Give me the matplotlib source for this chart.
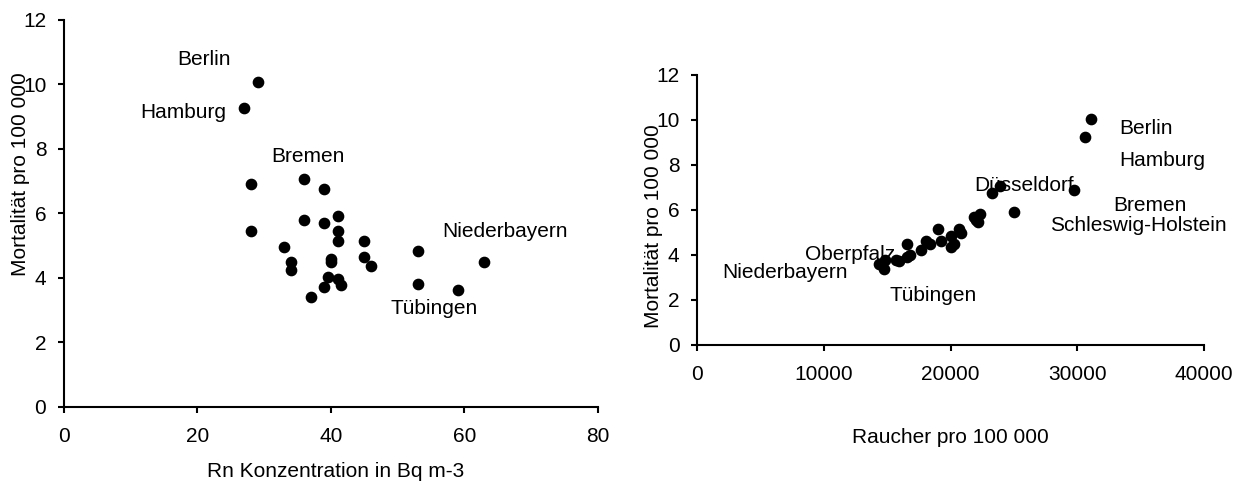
import matplotlib
matplotlib.use("Agg")
import matplotlib.pyplot as plt

plt.rcParams['font.family'] = ['Liberation Sans', 'DejaVu Sans']

# Radon concentration vs. lung cancer mortality per region
radon = [29, 27, 28, 28, 36, 39, 36, 39, 41, 41, 41, 33, 34, 34,
         40, 40, 45, 45, 46, 39.5, 41, 41.5, 39, 37, 53, 53, 59, 63]
mort_radon = [10.08, 9.27, 6.90, 5.47, 7.08, 6.77, 5.81, 5.70, 5.92, 5.45, 5.15, 4.97, 4.48, 4.26,
              4.59, 4.48, 5.16, 4.64, 4.36, 4.04, 3.98, 3.77, 3.72, 3.40, 4.85, 3.82, 3.62, 4.50]

radon_names = ["Berlin", "Hamburg", "Bremen", "Niederbayern", "Tübingen"]
radon_name_x = [21.0, 17.9, 36.5, 66.1, 55.5]
radon_name_y = [10.76, 9.12, 7.78, 5.44, 3.04]

# Smokers vs. lung cancer mortality per region
smokers = [31100, 30600, 29700, 23900, 23250, 25000, 22350, 21850, 22150, 22000,
           19000, 20700, 20850, 20000, 18050, 18350, 19250, 20250, 20000, 16550,
           17650, 16800, 16600, 15900, 14800, 14350, 14750, 15700]
mort_smokers = [10.05, 9.25, 6.90, 7.07, 6.75, 5.90, 5.80, 5.70, 5.45, 5.55,
                5.15, 5.15, 4.97, 4.85, 4.60, 4.47, 4.60, 4.50, 4.35, 4.50,
                4.22, 4.02, 3.92, 3.72, 3.78, 3.62, 3.38, 3.78]

smoker_names = ["Berlin", "Hamburg", "Düsseldorf", "Bremen", "Schleswig-Holstein",
                "Oberpfalz", "Niederbayern", "Tübingen"]
smoker_name_x = [35400, 36700, 25830, 35730, 34790, 12065, 6975, 18600]
smoker_name_y = [9.62, 8.18, 7.10, 6.21, 5.32, 4.01, 3.21, 2.20]

fs = 15

fig = plt.figure(figsize=(12.47, 4.90), dpi=100)
ax1 = fig.add_axes([0.0513, 0.1694, 0.4282, 0.790])
ax2 = fig.add_axes([0.559, 0.296, 0.4066, 0.551])


def style_axes(ax):
    for side in ['top', 'right']:
        ax.spines[side].set_visible(False)
    for side in ['left', 'bottom']:
        ax.spines[side].set_linewidth(1.5)
    ax.tick_params(axis='both', direction='out', length=4.2, width=1.5, labelsize=fs)
    ax.tick_params(axis='x', pad=10)
    ax.tick_params(axis='y', pad=8.5)


ax1.plot(radon, mort_radon, 'o', color='black', markersize=7.4, zorder=3, clip_on=False)
for name, x, y in zip(radon_names, radon_name_x, radon_name_y):
    ax1.text(x, y, name, fontsize=fs, ha='center', va='center')
ax1.set_xlim(0, 80)
ax1.set_ylim(0, 12)
ax1.set_xticks([0, 20, 40, 60, 80])
ax1.set_yticks([0, 2, 4, 6, 8, 10, 12])
style_axes(ax1)

ax2.plot(smokers, mort_smokers, 'o', color='black', markersize=7.4, zorder=3, clip_on=False)
for name, x, y in zip(smoker_names, smoker_name_x, smoker_name_y):
    ax2.text(x, y, name, fontsize=fs, ha='center', va='center')
ax2.set_xlim(0, 40000)
ax2.set_ylim(0, 12)
ax2.set_xticks([0, 10000, 20000, 30000, 40000])
ax2.set_yticks([0, 2, 4, 6, 8, 10, 12])
style_axes(ax2)

# axis titles placed by hand, they overlap the tick labels a bit
fig.text(0.0168, 0.645, "Mortalität pro 100 000", rotation=90, fontsize=fs, ha='center', va='center')
fig.text(0.269, 0.037, "Rn Konzentration in Bq m-3", fontsize=fs, ha='center', va='center')
fig.text(0.524, 0.538, "Mortalität pro 100 000", rotation=90, fontsize=fs, ha='center', va='center')
fig.text(0.762, 0.108, "Raucher pro 100 000", fontsize=fs, ha='center', va='center')

fig.savefig("out.png", dpi=100)
